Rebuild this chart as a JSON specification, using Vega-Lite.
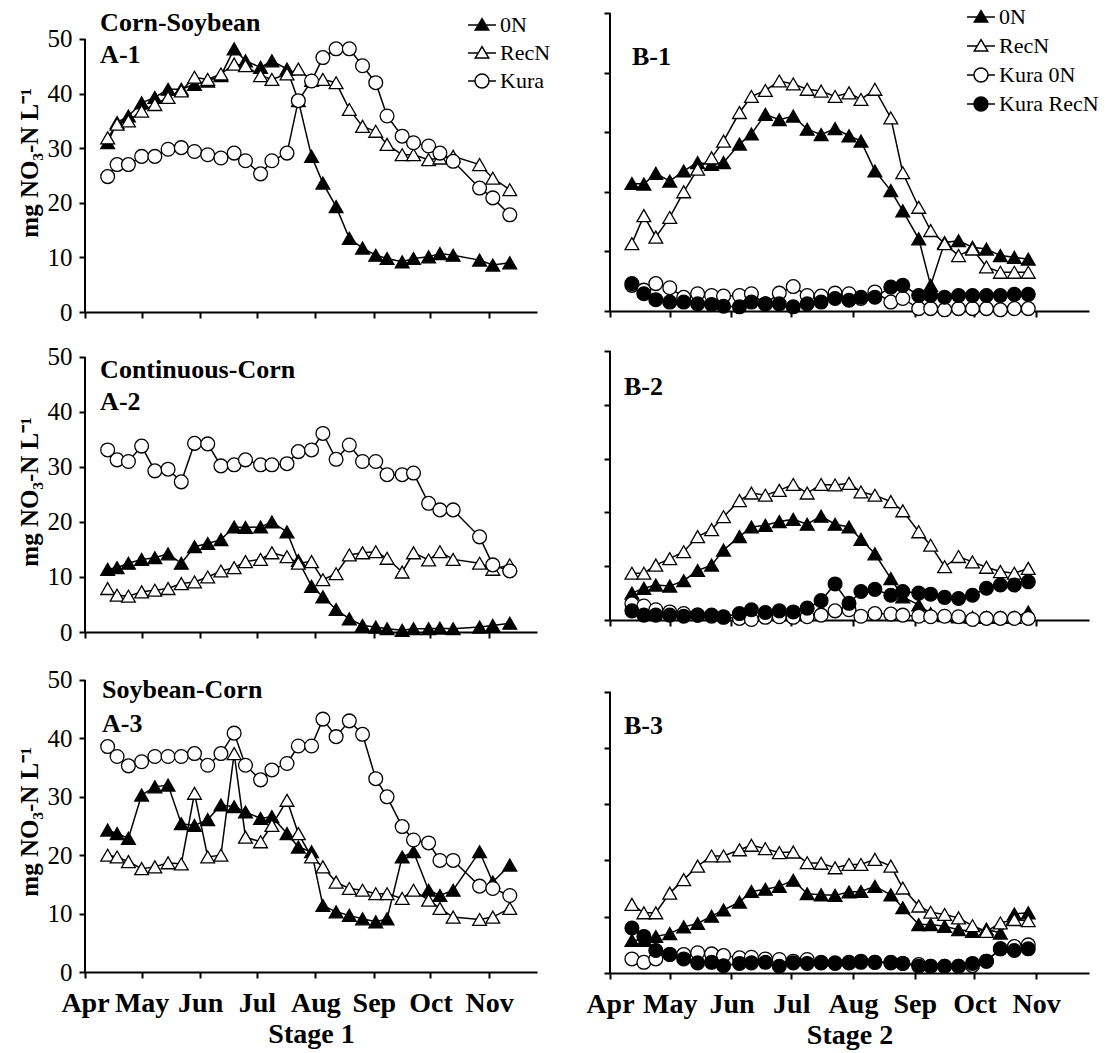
{
"$schema": "https://vega.github.io/schema/vega-lite/v6.json",
"background": "white",
"padding": {"left": 17, "top": 2, "right": 2, "bottom": 2},
"datasets": {
"labels": [
{"panel":"A1","label":"Corn-Soybean","date":"2020-04-09","value":51.5},
{"panel":"A1","label":"A-1","date":"2020-04-09","value":45.6},
{"panel":"A2","label":"Continuous-Corn","date":"2020-04-09","value":46.1},
{"panel":"A2","label":"A-2","date":"2020-04-09","value":40.4},
{"panel":"A3","label":"Soybean-Corn","date":"2020-04-10","value":46.9},
{"panel":"A3","label":"A-3","date":"2020-04-10","value":41.1},
{"panel":"B1","label":"B-1","date":"2020-04-12","value":41.3},
{"panel":"B2","label":"B-2","date":"2020-04-08","value":41.8},
{"panel":"B3","label":"B-3","date":"2020-04-08","value":42.4}
],
"pts": [
{"panel":"A1","series":"0N","date":"2020-04-13","value":31},
{"panel":"A1","series":"0N","date":"2020-04-18","value":34.7},
{"panel":"A1","series":"0N","date":"2020-04-24","value":35.9},
{"panel":"A1","series":"0N","date":"2020-05-01","value":38.3},
{"panel":"A1","series":"0N","date":"2020-05-08","value":39.3},
{"panel":"A1","series":"0N","date":"2020-05-15","value":40.8},
{"panel":"A1","series":"0N","date":"2020-05-22","value":40.8},
{"panel":"A1","series":"0N","date":"2020-05-29","value":41.7},
{"panel":"A1","series":"0N","date":"2020-06-05","value":42.3},
{"panel":"A1","series":"0N","date":"2020-06-12","value":43.3},
{"panel":"A1","series":"0N","date":"2020-06-19","value":48.2},
{"panel":"A1","series":"0N","date":"2020-06-25","value":46},
{"panel":"A1","series":"0N","date":"2020-07-03","value":44.8},
{"panel":"A1","series":"0N","date":"2020-07-09","value":46},
{"panel":"A1","series":"0N","date":"2020-07-17","value":44.5},
{"panel":"A1","series":"0N","date":"2020-07-23","value":38.7},
{"panel":"A1","series":"0N","date":"2020-07-30","value":28.5},
{"panel":"A1","series":"0N","date":"2020-08-05","value":23.6},
{"panel":"A1","series":"0N","date":"2020-08-12","value":19.3},
{"panel":"A1","series":"0N","date":"2020-08-19","value":13.5},
{"panel":"A1","series":"0N","date":"2020-08-26","value":11.7},
{"panel":"A1","series":"0N","date":"2020-09-02","value":10.4},
{"panel":"A1","series":"0N","date":"2020-09-08","value":9.8},
{"panel":"A1","series":"0N","date":"2020-09-16","value":9.2},
{"panel":"A1","series":"0N","date":"2020-09-22","value":9.8},
{"panel":"A1","series":"0N","date":"2020-09-30","value":10.1},
{"panel":"A1","series":"0N","date":"2020-10-06","value":10.7},
{"panel":"A1","series":"0N","date":"2020-10-13","value":10.4},
{"panel":"A1","series":"0N","date":"2020-10-27","value":9.5},
{"panel":"A1","series":"0N","date":"2020-11-03","value":8.6},
{"panel":"A1","series":"0N","date":"2020-11-12","value":9.0},
{"panel":"A1","series":"RecN","date":"2020-04-13","value":31.9},
{"panel":"A1","series":"RecN","date":"2020-04-18","value":34.4},
{"panel":"A1","series":"RecN","date":"2020-04-24","value":35},
{"panel":"A1","series":"RecN","date":"2020-05-01","value":36.8},
{"panel":"A1","series":"RecN","date":"2020-05-08","value":38},
{"panel":"A1","series":"RecN","date":"2020-05-15","value":39.3},
{"panel":"A1","series":"RecN","date":"2020-05-22","value":40.5},
{"panel":"A1","series":"RecN","date":"2020-05-29","value":43},
{"panel":"A1","series":"RecN","date":"2020-06-05","value":42.6},
{"panel":"A1","series":"RecN","date":"2020-06-12","value":43.6},
{"panel":"A1","series":"RecN","date":"2020-06-19","value":45.4},
{"panel":"A1","series":"RecN","date":"2020-06-25","value":45.1},
{"panel":"A1","series":"RecN","date":"2020-07-03","value":43.3},
{"panel":"A1","series":"RecN","date":"2020-07-09","value":42.6},
{"panel":"A1","series":"RecN","date":"2020-07-17","value":43.6},
{"panel":"A1","series":"RecN","date":"2020-07-23","value":44.5},
{"panel":"A1","series":"RecN","date":"2020-07-30","value":42.4},
{"panel":"A1","series":"RecN","date":"2020-08-05","value":42.6},
{"panel":"A1","series":"RecN","date":"2020-08-12","value":42},
{"panel":"A1","series":"RecN","date":"2020-08-19","value":37.1},
{"panel":"A1","series":"RecN","date":"2020-08-26","value":34},
{"panel":"A1","series":"RecN","date":"2020-09-02","value":33.1},
{"panel":"A1","series":"RecN","date":"2020-09-08","value":30.7},
{"panel":"A1","series":"RecN","date":"2020-09-16","value":28.8},
{"panel":"A1","series":"RecN","date":"2020-09-22","value":28.8},
{"panel":"A1","series":"RecN","date":"2020-09-30","value":27.9},
{"panel":"A1","series":"RecN","date":"2020-10-06","value":28.2},
{"panel":"A1","series":"RecN","date":"2020-10-13","value":28.5},
{"panel":"A1","series":"RecN","date":"2020-10-27","value":27},
{"panel":"A1","series":"RecN","date":"2020-11-03","value":24.5},
{"panel":"A1","series":"RecN","date":"2020-11-12","value":22.4},
{"panel":"A1","series":"Kura","date":"2020-04-13","value":24.8},
{"panel":"A1","series":"Kura","date":"2020-04-18","value":27},
{"panel":"A1","series":"Kura","date":"2020-04-24","value":27},
{"panel":"A1","series":"Kura","date":"2020-05-01","value":28.5},
{"panel":"A1","series":"Kura","date":"2020-05-08","value":28.5},
{"panel":"A1","series":"Kura","date":"2020-05-15","value":29.8},
{"panel":"A1","series":"Kura","date":"2020-05-22","value":30.1},
{"panel":"A1","series":"Kura","date":"2020-05-29","value":29.4},
{"panel":"A1","series":"Kura","date":"2020-06-05","value":28.8},
{"panel":"A1","series":"Kura","date":"2020-06-12","value":28.2},
{"panel":"A1","series":"Kura","date":"2020-06-19","value":29.1},
{"panel":"A1","series":"Kura","date":"2020-06-25","value":27.7},
{"panel":"A1","series":"Kura","date":"2020-07-03","value":25.3},
{"panel":"A1","series":"Kura","date":"2020-07-09","value":27.7},
{"panel":"A1","series":"Kura","date":"2020-07-17","value":29.1},
{"panel":"A1","series":"Kura","date":"2020-07-23","value":38.7},
{"panel":"A1","series":"Kura","date":"2020-07-30","value":42.3},
{"panel":"A1","series":"Kura","date":"2020-08-05","value":46.6},
{"panel":"A1","series":"Kura","date":"2020-08-12","value":48.2},
{"panel":"A1","series":"Kura","date":"2020-08-19","value":48.2},
{"panel":"A1","series":"Kura","date":"2020-08-26","value":45.1},
{"panel":"A1","series":"Kura","date":"2020-09-02","value":42},
{"panel":"A1","series":"Kura","date":"2020-09-08","value":35.9},
{"panel":"A1","series":"Kura","date":"2020-09-16","value":32.2},
{"panel":"A1","series":"Kura","date":"2020-09-22","value":31},
{"panel":"A1","series":"Kura","date":"2020-09-30","value":30.4},
{"panel":"A1","series":"Kura","date":"2020-10-06","value":29.1},
{"panel":"A1","series":"Kura","date":"2020-10-13","value":27.6},
{"panel":"A1","series":"Kura","date":"2020-10-27","value":22.7},
{"panel":"A1","series":"Kura","date":"2020-11-03","value":20.9},
{"panel":"A1","series":"Kura","date":"2020-11-12","value":17.8},
{"panel":"A2","series":"0N","date":"2020-04-13","value":11.4},
{"panel":"A2","series":"0N","date":"2020-04-18","value":11.7},
{"panel":"A2","series":"0N","date":"2020-04-24","value":12.5},
{"panel":"A2","series":"0N","date":"2020-05-01","value":13.2},
{"panel":"A2","series":"0N","date":"2020-05-08","value":13.5},
{"panel":"A2","series":"0N","date":"2020-05-15","value":14.2},
{"panel":"A2","series":"0N","date":"2020-05-22","value":12.5},
{"panel":"A2","series":"0N","date":"2020-05-29","value":15.5},
{"panel":"A2","series":"0N","date":"2020-06-05","value":16.1},
{"panel":"A2","series":"0N","date":"2020-06-12","value":16.8},
{"panel":"A2","series":"0N","date":"2020-06-19","value":19.1},
{"panel":"A2","series":"0N","date":"2020-06-25","value":19},
{"panel":"A2","series":"0N","date":"2020-07-03","value":19.1},
{"panel":"A2","series":"0N","date":"2020-07-09","value":20},
{"panel":"A2","series":"0N","date":"2020-07-17","value":18.2},
{"panel":"A2","series":"0N","date":"2020-07-23","value":13},
{"panel":"A2","series":"0N","date":"2020-07-30","value":8.3},
{"panel":"A2","series":"0N","date":"2020-08-05","value":6.4},
{"panel":"A2","series":"0N","date":"2020-08-12","value":4.1},
{"panel":"A2","series":"0N","date":"2020-08-19","value":2.4},
{"panel":"A2","series":"0N","date":"2020-08-26","value":1.2},
{"panel":"A2","series":"0N","date":"2020-09-02","value":0.9},
{"panel":"A2","series":"0N","date":"2020-09-08","value":0.6},
{"panel":"A2","series":"0N","date":"2020-09-16","value":0.3},
{"panel":"A2","series":"0N","date":"2020-09-22","value":0.6},
{"panel":"A2","series":"0N","date":"2020-09-30","value":0.6},
{"panel":"A2","series":"0N","date":"2020-10-06","value":0.7},
{"panel":"A2","series":"0N","date":"2020-10-13","value":0.6},
{"panel":"A2","series":"0N","date":"2020-10-27","value":0.9},
{"panel":"A2","series":"0N","date":"2020-11-03","value":1.2},
{"panel":"A2","series":"0N","date":"2020-11-12","value":1.6},
{"panel":"A2","series":"RecN","date":"2020-04-13","value":7.9},
{"panel":"A2","series":"RecN","date":"2020-04-18","value":6.7},
{"panel":"A2","series":"RecN","date":"2020-04-24","value":6.5},
{"panel":"A2","series":"RecN","date":"2020-05-01","value":7.3},
{"panel":"A2","series":"RecN","date":"2020-05-08","value":7.6},
{"panel":"A2","series":"RecN","date":"2020-05-15","value":7.9},
{"panel":"A2","series":"RecN","date":"2020-05-22","value":8.8},
{"panel":"A2","series":"RecN","date":"2020-05-29","value":9.1},
{"panel":"A2","series":"RecN","date":"2020-06-05","value":10},
{"panel":"A2","series":"RecN","date":"2020-06-12","value":11.1},
{"panel":"A2","series":"RecN","date":"2020-06-19","value":11.7},
{"panel":"A2","series":"RecN","date":"2020-06-25","value":12.8},
{"panel":"A2","series":"RecN","date":"2020-07-03","value":13.2},
{"panel":"A2","series":"RecN","date":"2020-07-09","value":14.4},
{"panel":"A2","series":"RecN","date":"2020-07-17","value":13.7},
{"panel":"A2","series":"RecN","date":"2020-07-23","value":12.5},
{"panel":"A2","series":"RecN","date":"2020-07-30","value":12.8},
{"panel":"A2","series":"RecN","date":"2020-08-05","value":9.5},
{"panel":"A2","series":"RecN","date":"2020-08-12","value":10.6},
{"panel":"A2","series":"RecN","date":"2020-08-19","value":14},
{"panel":"A2","series":"RecN","date":"2020-08-26","value":14.4},
{"panel":"A2","series":"RecN","date":"2020-09-02","value":14.6},
{"panel":"A2","series":"RecN","date":"2020-09-08","value":13.4},
{"panel":"A2","series":"RecN","date":"2020-09-16","value":10.9},
{"panel":"A2","series":"RecN","date":"2020-09-22","value":14.4},
{"panel":"A2","series":"RecN","date":"2020-09-30","value":13.1},
{"panel":"A2","series":"RecN","date":"2020-10-06","value":14.6},
{"panel":"A2","series":"RecN","date":"2020-10-13","value":13.2},
{"panel":"A2","series":"RecN","date":"2020-10-27","value":12.5},
{"panel":"A2","series":"RecN","date":"2020-11-03","value":11.4},
{"panel":"A2","series":"RecN","date":"2020-11-12","value":12.2},
{"panel":"A2","series":"Kura","date":"2020-04-13","value":33.1},
{"panel":"A2","series":"Kura","date":"2020-04-18","value":31.3},
{"panel":"A2","series":"Kura","date":"2020-04-24","value":31},
{"panel":"A2","series":"Kura","date":"2020-05-01","value":33.8},
{"panel":"A2","series":"Kura","date":"2020-05-08","value":29.3},
{"panel":"A2","series":"Kura","date":"2020-05-15","value":29.6},
{"panel":"A2","series":"Kura","date":"2020-05-22","value":27.3},
{"panel":"A2","series":"Kura","date":"2020-05-29","value":34.3},
{"panel":"A2","series":"Kura","date":"2020-06-05","value":34.2},
{"panel":"A2","series":"Kura","date":"2020-06-12","value":30.2},
{"panel":"A2","series":"Kura","date":"2020-06-19","value":30.4},
{"panel":"A2","series":"Kura","date":"2020-06-25","value":31.3},
{"panel":"A2","series":"Kura","date":"2020-07-03","value":30.4},
{"panel":"A2","series":"Kura","date":"2020-07-09","value":30.4},
{"panel":"A2","series":"Kura","date":"2020-07-17","value":30.6},
{"panel":"A2","series":"Kura","date":"2020-07-23","value":32.8},
{"panel":"A2","series":"Kura","date":"2020-07-30","value":33.1},
{"panel":"A2","series":"Kura","date":"2020-08-05","value":36.1},
{"panel":"A2","series":"Kura","date":"2020-08-12","value":31.4},
{"panel":"A2","series":"Kura","date":"2020-08-19","value":34},
{"panel":"A2","series":"Kura","date":"2020-08-26","value":31},
{"panel":"A2","series":"Kura","date":"2020-09-02","value":31},
{"panel":"A2","series":"Kura","date":"2020-09-08","value":28.6},
{"panel":"A2","series":"Kura","date":"2020-09-16","value":28.6},
{"panel":"A2","series":"Kura","date":"2020-09-22","value":28.9},
{"panel":"A2","series":"Kura","date":"2020-09-30","value":23.4},
{"panel":"A2","series":"Kura","date":"2020-10-06","value":22.2},
{"panel":"A2","series":"Kura","date":"2020-10-13","value":22.2},
{"panel":"A2","series":"Kura","date":"2020-10-27","value":17.3},
{"panel":"A2","series":"Kura","date":"2020-11-03","value":12.2},
{"panel":"A2","series":"Kura","date":"2020-11-12","value":11.1},
{"panel":"A3","series":"0N","date":"2020-04-13","value":24.3},
{"panel":"A3","series":"0N","date":"2020-04-18","value":23.7},
{"panel":"A3","series":"0N","date":"2020-04-24","value":22.9},
{"panel":"A3","series":"0N","date":"2020-05-01","value":30.3},
{"panel":"A3","series":"0N","date":"2020-05-08","value":31.7},
{"panel":"A3","series":"0N","date":"2020-05-15","value":32},
{"panel":"A3","series":"0N","date":"2020-05-22","value":25.4},
{"panel":"A3","series":"0N","date":"2020-05-29","value":25.1},
{"panel":"A3","series":"0N","date":"2020-06-05","value":26.1},
{"panel":"A3","series":"0N","date":"2020-06-12","value":28.6},
{"panel":"A3","series":"0N","date":"2020-06-19","value":28.3},
{"panel":"A3","series":"0N","date":"2020-06-25","value":27.4},
{"panel":"A3","series":"0N","date":"2020-07-03","value":26.3},
{"panel":"A3","series":"0N","date":"2020-07-09","value":26.6},
{"panel":"A3","series":"0N","date":"2020-07-17","value":23.7},
{"panel":"A3","series":"0N","date":"2020-07-23","value":21.4},
{"panel":"A3","series":"0N","date":"2020-07-30","value":20.6},
{"panel":"A3","series":"0N","date":"2020-08-05","value":11.4},
{"panel":"A3","series":"0N","date":"2020-08-12","value":10.3},
{"panel":"A3","series":"0N","date":"2020-08-19","value":9.7},
{"panel":"A3","series":"0N","date":"2020-08-26","value":9.1},
{"panel":"A3","series":"0N","date":"2020-09-02","value":8.6},
{"panel":"A3","series":"0N","date":"2020-09-08","value":9.1},
{"panel":"A3","series":"0N","date":"2020-09-16","value":19.7},
{"panel":"A3","series":"0N","date":"2020-09-22","value":20.6},
{"panel":"A3","series":"0N","date":"2020-09-30","value":14},
{"panel":"A3","series":"0N","date":"2020-10-06","value":13.1},
{"panel":"A3","series":"0N","date":"2020-10-13","value":14},
{"panel":"A3","series":"0N","date":"2020-10-27","value":20.6},
{"panel":"A3","series":"0N","date":"2020-11-03","value":15.4},
{"panel":"A3","series":"0N","date":"2020-11-12","value":18.3},
{"panel":"A3","series":"RecN","date":"2020-04-13","value":20},
{"panel":"A3","series":"RecN","date":"2020-04-18","value":19.7},
{"panel":"A3","series":"RecN","date":"2020-04-24","value":18.9},
{"panel":"A3","series":"RecN","date":"2020-05-01","value":17.7},
{"panel":"A3","series":"RecN","date":"2020-05-08","value":18},
{"panel":"A3","series":"RecN","date":"2020-05-15","value":18.7},
{"panel":"A3","series":"RecN","date":"2020-05-22","value":18.5},
{"panel":"A3","series":"RecN","date":"2020-05-29","value":30.6},
{"panel":"A3","series":"RecN","date":"2020-06-05","value":19.7},
{"panel":"A3","series":"RecN","date":"2020-06-12","value":20},
{"panel":"A3","series":"RecN","date":"2020-06-19","value":37.4},
{"panel":"A3","series":"RecN","date":"2020-06-25","value":23.1},
{"panel":"A3","series":"RecN","date":"2020-07-03","value":22.3},
{"panel":"A3","series":"RecN","date":"2020-07-09","value":25.1},
{"panel":"A3","series":"RecN","date":"2020-07-17","value":29.4},
{"panel":"A3","series":"RecN","date":"2020-07-23","value":23.7},
{"panel":"A3","series":"RecN","date":"2020-07-30","value":19.7},
{"panel":"A3","series":"RecN","date":"2020-08-05","value":18},
{"panel":"A3","series":"RecN","date":"2020-08-12","value":15.4},
{"panel":"A3","series":"RecN","date":"2020-08-19","value":14.3},
{"panel":"A3","series":"RecN","date":"2020-08-26","value":14},
{"panel":"A3","series":"RecN","date":"2020-09-02","value":13.4},
{"panel":"A3","series":"RecN","date":"2020-09-08","value":13.4},
{"panel":"A3","series":"RecN","date":"2020-09-16","value":12.6},
{"panel":"A3","series":"RecN","date":"2020-09-22","value":14},
{"panel":"A3","series":"RecN","date":"2020-09-30","value":12.3},
{"panel":"A3","series":"RecN","date":"2020-10-06","value":10.9},
{"panel":"A3","series":"RecN","date":"2020-10-13","value":9.4},
{"panel":"A3","series":"RecN","date":"2020-10-27","value":9},
{"panel":"A3","series":"RecN","date":"2020-11-03","value":9.4},
{"panel":"A3","series":"RecN","date":"2020-11-12","value":10.9},
{"panel":"A3","series":"Kura","date":"2020-04-13","value":38.6},
{"panel":"A3","series":"Kura","date":"2020-04-18","value":36.9},
{"panel":"A3","series":"Kura","date":"2020-04-24","value":35.3},
{"panel":"A3","series":"Kura","date":"2020-05-01","value":36},
{"panel":"A3","series":"Kura","date":"2020-05-08","value":36.9},
{"panel":"A3","series":"Kura","date":"2020-05-15","value":36.9},
{"panel":"A3","series":"Kura","date":"2020-05-22","value":36.9},
{"panel":"A3","series":"Kura","date":"2020-05-29","value":37.4},
{"panel":"A3","series":"Kura","date":"2020-06-05","value":35.4},
{"panel":"A3","series":"Kura","date":"2020-06-12","value":37.4},
{"panel":"A3","series":"Kura","date":"2020-06-19","value":40.9},
{"panel":"A3","series":"Kura","date":"2020-06-25","value":35.4},
{"panel":"A3","series":"Kura","date":"2020-07-03","value":32.9},
{"panel":"A3","series":"Kura","date":"2020-07-09","value":34.6},
{"panel":"A3","series":"Kura","date":"2020-07-17","value":35.7},
{"panel":"A3","series":"Kura","date":"2020-07-23","value":38.7},
{"panel":"A3","series":"Kura","date":"2020-07-30","value":38.7},
{"panel":"A3","series":"Kura","date":"2020-08-05","value":43.3},
{"panel":"A3","series":"Kura","date":"2020-08-12","value":40.3},
{"panel":"A3","series":"Kura","date":"2020-08-19","value":43},
{"panel":"A3","series":"Kura","date":"2020-08-26","value":40.7},
{"panel":"A3","series":"Kura","date":"2020-09-02","value":33.1},
{"panel":"A3","series":"Kura","date":"2020-09-08","value":30},
{"panel":"A3","series":"Kura","date":"2020-09-16","value":24.9},
{"panel":"A3","series":"Kura","date":"2020-09-22","value":22.6},
{"panel":"A3","series":"Kura","date":"2020-09-30","value":22.1},
{"panel":"A3","series":"Kura","date":"2020-10-06","value":19.1},
{"panel":"A3","series":"Kura","date":"2020-10-13","value":19.1},
{"panel":"A3","series":"Kura","date":"2020-10-27","value":14.7},
{"panel":"A3","series":"Kura","date":"2020-11-03","value":14.3},
{"panel":"A3","series":"Kura","date":"2020-11-12","value":13.1},
{"panel":"B1","series":"0N","date":"2020-04-12","value":21.4},
{"panel":"B1","series":"0N","date":"2020-04-18","value":21.3},
{"panel":"B1","series":"0N","date":"2020-04-24","value":23.1},
{"panel":"B1","series":"0N","date":"2020-05-01","value":21.8},
{"panel":"B1","series":"0N","date":"2020-05-08","value":23.5},
{"panel":"B1","series":"0N","date":"2020-05-15","value":24.9},
{"panel":"B1","series":"0N","date":"2020-05-22","value":24.6},
{"panel":"B1","series":"0N","date":"2020-05-28","value":24.9},
{"panel":"B1","series":"0N","date":"2020-06-05","value":28},
{"panel":"B1","series":"0N","date":"2020-06-11","value":29.7},
{"panel":"B1","series":"0N","date":"2020-06-18","value":33},
{"panel":"B1","series":"0N","date":"2020-06-25","value":32.1},
{"panel":"B1","series":"0N","date":"2020-07-02","value":32.7},
{"panel":"B1","series":"0N","date":"2020-07-09","value":30.5},
{"panel":"B1","series":"0N","date":"2020-07-16","value":29.6},
{"panel":"B1","series":"0N","date":"2020-07-23","value":30.6},
{"panel":"B1","series":"0N","date":"2020-07-30","value":29.4},
{"panel":"B1","series":"0N","date":"2020-08-05","value":28.5},
{"panel":"B1","series":"0N","date":"2020-08-12","value":23.5},
{"panel":"B1","series":"0N","date":"2020-08-20","value":20.2},
{"panel":"B1","series":"0N","date":"2020-08-26","value":16.8},
{"panel":"B1","series":"0N","date":"2020-09-03","value":12.1},
{"panel":"B1","series":"0N","date":"2020-09-09","value":4.3},
{"panel":"B1","series":"0N","date":"2020-09-16","value":11.5},
{"panel":"B1","series":"0N","date":"2020-09-23","value":11.8},
{"panel":"B1","series":"0N","date":"2020-09-30","value":10.7},
{"panel":"B1","series":"0N","date":"2020-10-07","value":10.4},
{"panel":"B1","series":"0N","date":"2020-10-14","value":9.3},
{"panel":"B1","series":"0N","date":"2020-10-21","value":9},
{"panel":"B1","series":"0N","date":"2020-10-28","value":8.7},
{"panel":"B1","series":"RecN","date":"2020-04-12","value":11.3},
{"panel":"B1","series":"RecN","date":"2020-04-18","value":16},
{"panel":"B1","series":"RecN","date":"2020-04-24","value":12.4},
{"panel":"B1","series":"RecN","date":"2020-05-01","value":15.7},
{"panel":"B1","series":"RecN","date":"2020-05-08","value":20},
{"panel":"B1","series":"RecN","date":"2020-05-15","value":23.8},
{"panel":"B1","series":"RecN","date":"2020-05-22","value":25.7},
{"panel":"B1","series":"RecN","date":"2020-05-28","value":28.5},
{"panel":"B1","series":"RecN","date":"2020-06-05","value":33.3},
{"panel":"B1","series":"RecN","date":"2020-06-11","value":36},
{"panel":"B1","series":"RecN","date":"2020-06-18","value":37},
{"panel":"B1","series":"RecN","date":"2020-06-25","value":38.6},
{"panel":"B1","series":"RecN","date":"2020-07-02","value":38.1},
{"panel":"B1","series":"RecN","date":"2020-07-09","value":37.2},
{"panel":"B1","series":"RecN","date":"2020-07-16","value":36.9},
{"panel":"B1","series":"RecN","date":"2020-07-23","value":36},
{"panel":"B1","series":"RecN","date":"2020-07-30","value":36.6},
{"panel":"B1","series":"RecN","date":"2020-08-05","value":35.5},
{"panel":"B1","series":"RecN","date":"2020-08-12","value":37.2},
{"panel":"B1","series":"RecN","date":"2020-08-20","value":32.4},
{"panel":"B1","series":"RecN","date":"2020-08-26","value":23.2},
{"panel":"B1","series":"RecN","date":"2020-09-03","value":17.4},
{"panel":"B1","series":"RecN","date":"2020-09-09","value":13.5},
{"panel":"B1","series":"RecN","date":"2020-09-16","value":11.3},
{"panel":"B1","series":"RecN","date":"2020-09-23","value":9.3},
{"panel":"B1","series":"RecN","date":"2020-09-30","value":10.4},
{"panel":"B1","series":"RecN","date":"2020-10-07","value":7.4},
{"panel":"B1","series":"RecN","date":"2020-10-14","value":6.5},
{"panel":"B1","series":"RecN","date":"2020-10-21","value":6.5},
{"panel":"B1","series":"RecN","date":"2020-10-28","value":6.5},
{"panel":"B1","series":"Kura 0N","date":"2020-04-12","value":4.3},
{"panel":"B1","series":"Kura 0N","date":"2020-04-18","value":3.5},
{"panel":"B1","series":"Kura 0N","date":"2020-04-24","value":4.6},
{"panel":"B1","series":"Kura 0N","date":"2020-05-01","value":3.9},
{"panel":"B1","series":"Kura 0N","date":"2020-05-08","value":2.3},
{"panel":"B1","series":"Kura 0N","date":"2020-05-15","value":2.9},
{"panel":"B1","series":"Kura 0N","date":"2020-05-22","value":2.6},
{"panel":"B1","series":"Kura 0N","date":"2020-05-28","value":2.5},
{"panel":"B1","series":"Kura 0N","date":"2020-06-05","value":2.6},
{"panel":"B1","series":"Kura 0N","date":"2020-06-11","value":2.9},
{"panel":"B1","series":"Kura 0N","date":"2020-06-18","value":1.2},
{"panel":"B1","series":"Kura 0N","date":"2020-06-25","value":3},
{"panel":"B1","series":"Kura 0N","date":"2020-07-02","value":4.1},
{"panel":"B1","series":"Kura 0N","date":"2020-07-09","value":2.6},
{"panel":"B1","series":"Kura 0N","date":"2020-07-16","value":2.5},
{"panel":"B1","series":"Kura 0N","date":"2020-07-23","value":3},
{"panel":"B1","series":"Kura 0N","date":"2020-07-30","value":2.9},
{"panel":"B1","series":"Kura 0N","date":"2020-08-05","value":2.1},
{"panel":"B1","series":"Kura 0N","date":"2020-08-12","value":3.2},
{"panel":"B1","series":"Kura 0N","date":"2020-08-20","value":1.5},
{"panel":"B1","series":"Kura 0N","date":"2020-08-26","value":2.1},
{"panel":"B1","series":"Kura 0N","date":"2020-09-03","value":0.4},
{"panel":"B1","series":"Kura 0N","date":"2020-09-09","value":0.4},
{"panel":"B1","series":"Kura 0N","date":"2020-09-16","value":0.2},
{"panel":"B1","series":"Kura 0N","date":"2020-09-23","value":0.4},
{"panel":"B1","series":"Kura 0N","date":"2020-09-30","value":0.4},
{"panel":"B1","series":"Kura 0N","date":"2020-10-07","value":0.4},
{"panel":"B1","series":"Kura 0N","date":"2020-10-14","value":0.2},
{"panel":"B1","series":"Kura 0N","date":"2020-10-21","value":0.4},
{"panel":"B1","series":"Kura 0N","date":"2020-10-28","value":0.4},
{"panel":"B1","series":"Kura RecN","date":"2020-04-12","value":4.6},
{"panel":"B1","series":"Kura RecN","date":"2020-04-18","value":2.9},
{"panel":"B1","series":"Kura RecN","date":"2020-04-24","value":1.9},
{"panel":"B1","series":"Kura RecN","date":"2020-05-01","value":1.5},
{"panel":"B1","series":"Kura RecN","date":"2020-05-08","value":1.5},
{"panel":"B1","series":"Kura RecN","date":"2020-05-15","value":1.2},
{"panel":"B1","series":"Kura RecN","date":"2020-05-22","value":1.1},
{"panel":"B1","series":"Kura RecN","date":"2020-05-28","value":0.8},
{"panel":"B1","series":"Kura RecN","date":"2020-06-05","value":0.7},
{"panel":"B1","series":"Kura RecN","date":"2020-06-11","value":1.5},
{"panel":"B1","series":"Kura RecN","date":"2020-06-18","value":1.2},
{"panel":"B1","series":"Kura RecN","date":"2020-06-25","value":1.2},
{"panel":"B1","series":"Kura RecN","date":"2020-07-02","value":0.7},
{"panel":"B1","series":"Kura RecN","date":"2020-07-09","value":1.2},
{"panel":"B1","series":"Kura RecN","date":"2020-07-16","value":1.5},
{"panel":"B1","series":"Kura RecN","date":"2020-07-23","value":2.1},
{"panel":"B1","series":"Kura RecN","date":"2020-07-30","value":1.8},
{"panel":"B1","series":"Kura RecN","date":"2020-08-05","value":2.3},
{"panel":"B1","series":"Kura RecN","date":"2020-08-12","value":2.3},
{"panel":"B1","series":"Kura RecN","date":"2020-08-20","value":4},
{"panel":"B1","series":"Kura RecN","date":"2020-08-26","value":4.3},
{"panel":"B1","series":"Kura RecN","date":"2020-09-03","value":2.6},
{"panel":"B1","series":"Kura RecN","date":"2020-09-09","value":2.6},
{"panel":"B1","series":"Kura RecN","date":"2020-09-16","value":2.3},
{"panel":"B1","series":"Kura RecN","date":"2020-09-23","value":2.6},
{"panel":"B1","series":"Kura RecN","date":"2020-09-30","value":2.6},
{"panel":"B1","series":"Kura RecN","date":"2020-10-07","value":2.6},
{"panel":"B1","series":"Kura RecN","date":"2020-10-14","value":2.6},
{"panel":"B1","series":"Kura RecN","date":"2020-10-21","value":2.8},
{"panel":"B1","series":"Kura RecN","date":"2020-10-28","value":2.8},
{"panel":"B2","series":"0N","date":"2020-04-12","value":5},
{"panel":"B2","series":"0N","date":"2020-04-18","value":5.9},
{"panel":"B2","series":"0N","date":"2020-04-24","value":6.5},
{"panel":"B2","series":"0N","date":"2020-05-01","value":6.3},
{"panel":"B2","series":"0N","date":"2020-05-08","value":7.3},
{"panel":"B2","series":"0N","date":"2020-05-15","value":9.2},
{"panel":"B2","series":"0N","date":"2020-05-22","value":10.2},
{"panel":"B2","series":"0N","date":"2020-05-28","value":13},
{"panel":"B2","series":"0N","date":"2020-06-05","value":15.5},
{"panel":"B2","series":"0N","date":"2020-06-11","value":17.3},
{"panel":"B2","series":"0N","date":"2020-06-18","value":17.6},
{"panel":"B2","series":"0N","date":"2020-06-25","value":18.3},
{"panel":"B2","series":"0N","date":"2020-07-02","value":18.7},
{"panel":"B2","series":"0N","date":"2020-07-09","value":17.8},
{"panel":"B2","series":"0N","date":"2020-07-16","value":19.3},
{"panel":"B2","series":"0N","date":"2020-07-23","value":17.8},
{"panel":"B2","series":"0N","date":"2020-07-30","value":17.3},
{"panel":"B2","series":"0N","date":"2020-08-05","value":15},
{"panel":"B2","series":"0N","date":"2020-08-12","value":12.3},
{"panel":"B2","series":"0N","date":"2020-08-20","value":7.7},
{"panel":"B2","series":"0N","date":"2020-08-26","value":4.3},
{"panel":"B2","series":"0N","date":"2020-09-03","value":2.8},
{"panel":"B2","series":"0N","date":"2020-09-09","value":1.2},
{"panel":"B2","series":"0N","date":"2020-09-16","value":0.8},
{"panel":"B2","series":"0N","date":"2020-09-23","value":0.6},
{"panel":"B2","series":"0N","date":"2020-09-30","value":0.5},
{"panel":"B2","series":"0N","date":"2020-10-07","value":0.5},
{"panel":"B2","series":"0N","date":"2020-10-14","value":0.5},
{"panel":"B2","series":"0N","date":"2020-10-21","value":0.5},
{"panel":"B2","series":"0N","date":"2020-10-28","value":1.5},
{"panel":"B2","series":"RecN","date":"2020-04-12","value":8.7},
{"panel":"B2","series":"RecN","date":"2020-04-18","value":8.7},
{"panel":"B2","series":"RecN","date":"2020-04-24","value":10.2},
{"panel":"B2","series":"RecN","date":"2020-05-01","value":11.4},
{"panel":"B2","series":"RecN","date":"2020-05-08","value":12.7},
{"panel":"B2","series":"RecN","date":"2020-05-15","value":15.5},
{"panel":"B2","series":"RecN","date":"2020-05-22","value":16.8},
{"panel":"B2","series":"RecN","date":"2020-05-28","value":19.2},
{"panel":"B2","series":"RecN","date":"2020-06-05","value":22.2},
{"panel":"B2","series":"RecN","date":"2020-06-11","value":23.6},
{"panel":"B2","series":"RecN","date":"2020-06-18","value":23.2},
{"panel":"B2","series":"RecN","date":"2020-06-25","value":24.1},
{"panel":"B2","series":"RecN","date":"2020-07-02","value":25.2},
{"panel":"B2","series":"RecN","date":"2020-07-09","value":23.6},
{"panel":"B2","series":"RecN","date":"2020-07-16","value":25.2},
{"panel":"B2","series":"RecN","date":"2020-07-23","value":25.1},
{"panel":"B2","series":"RecN","date":"2020-07-30","value":25.4},
{"panel":"B2","series":"RecN","date":"2020-08-05","value":23.8},
{"panel":"B2","series":"RecN","date":"2020-08-12","value":23.2},
{"panel":"B2","series":"RecN","date":"2020-08-20","value":22},
{"panel":"B2","series":"RecN","date":"2020-08-26","value":20.3},
{"panel":"B2","series":"RecN","date":"2020-09-03","value":16.4},
{"panel":"B2","series":"RecN","date":"2020-09-09","value":13.9},
{"panel":"B2","series":"RecN","date":"2020-09-16","value":9.9},
{"panel":"B2","series":"RecN","date":"2020-09-23","value":11.8},
{"panel":"B2","series":"RecN","date":"2020-09-30","value":10.8},
{"panel":"B2","series":"RecN","date":"2020-10-07","value":9.8},
{"panel":"B2","series":"RecN","date":"2020-10-14","value":9},
{"panel":"B2","series":"RecN","date":"2020-10-21","value":8.7},
{"panel":"B2","series":"RecN","date":"2020-10-28","value":9.6},
{"panel":"B2","series":"Kura 0N","date":"2020-04-12","value":3},
{"panel":"B2","series":"Kura 0N","date":"2020-04-18","value":2.6},
{"panel":"B2","series":"Kura 0N","date":"2020-04-24","value":1.9},
{"panel":"B2","series":"Kura 0N","date":"2020-05-01","value":1.5},
{"panel":"B2","series":"Kura 0N","date":"2020-05-08","value":1.2},
{"panel":"B2","series":"Kura 0N","date":"2020-05-15","value":0.9},
{"panel":"B2","series":"Kura 0N","date":"2020-05-22","value":0.7},
{"panel":"B2","series":"Kura 0N","date":"2020-05-28","value":0.5},
{"panel":"B2","series":"Kura 0N","date":"2020-06-05","value":0.3},
{"panel":"B2","series":"Kura 0N","date":"2020-06-11","value":0.1},
{"panel":"B2","series":"Kura 0N","date":"2020-06-18","value":0.5},
{"panel":"B2","series":"Kura 0N","date":"2020-06-25","value":0.6},
{"panel":"B2","series":"Kura 0N","date":"2020-07-02","value":0.5},
{"panel":"B2","series":"Kura 0N","date":"2020-07-09","value":0.6},
{"panel":"B2","series":"Kura 0N","date":"2020-07-16","value":0.9},
{"panel":"B2","series":"Kura 0N","date":"2020-07-23","value":1.7},
{"panel":"B2","series":"Kura 0N","date":"2020-07-30","value":1.9},
{"panel":"B2","series":"Kura 0N","date":"2020-08-05","value":0.7},
{"panel":"B2","series":"Kura 0N","date":"2020-08-12","value":1.2},
{"panel":"B2","series":"Kura 0N","date":"2020-08-20","value":1.1},
{"panel":"B2","series":"Kura 0N","date":"2020-08-26","value":0.9},
{"panel":"B2","series":"Kura 0N","date":"2020-09-03","value":0.7},
{"panel":"B2","series":"Kura 0N","date":"2020-09-09","value":0.6},
{"panel":"B2","series":"Kura 0N","date":"2020-09-16","value":0.7},
{"panel":"B2","series":"Kura 0N","date":"2020-09-23","value":0.6},
{"panel":"B2","series":"Kura 0N","date":"2020-09-30","value":0.1},
{"panel":"B2","series":"Kura 0N","date":"2020-10-07","value":0.3},
{"panel":"B2","series":"Kura 0N","date":"2020-10-14","value":0.3},
{"panel":"B2","series":"Kura 0N","date":"2020-10-21","value":0.3},
{"panel":"B2","series":"Kura 0N","date":"2020-10-28","value":0.3},
{"panel":"B2","series":"Kura RecN","date":"2020-04-12","value":1.7},
{"panel":"B2","series":"Kura RecN","date":"2020-04-18","value":0.9},
{"panel":"B2","series":"Kura RecN","date":"2020-04-24","value":0.9},
{"panel":"B2","series":"Kura RecN","date":"2020-05-01","value":0.9},
{"panel":"B2","series":"Kura RecN","date":"2020-05-08","value":0.7},
{"panel":"B2","series":"Kura RecN","date":"2020-05-15","value":0.9},
{"panel":"B2","series":"Kura RecN","date":"2020-05-22","value":0.9},
{"panel":"B2","series":"Kura RecN","date":"2020-05-28","value":0.6},
{"panel":"B2","series":"Kura RecN","date":"2020-06-05","value":1.2},
{"panel":"B2","series":"Kura RecN","date":"2020-06-11","value":1.9},
{"panel":"B2","series":"Kura RecN","date":"2020-06-18","value":1.4},
{"panel":"B2","series":"Kura RecN","date":"2020-06-25","value":1.7},
{"panel":"B2","series":"Kura RecN","date":"2020-07-02","value":1.5},
{"panel":"B2","series":"Kura RecN","date":"2020-07-09","value":2.2},
{"panel":"B2","series":"Kura RecN","date":"2020-07-16","value":3.6},
{"panel":"B2","series":"Kura RecN","date":"2020-07-23","value":6.7},
{"panel":"B2","series":"Kura RecN","date":"2020-07-30","value":3.1},
{"panel":"B2","series":"Kura RecN","date":"2020-08-05","value":5.3},
{"panel":"B2","series":"Kura RecN","date":"2020-08-12","value":5.7},
{"panel":"B2","series":"Kura RecN","date":"2020-08-20","value":4.6},
{"panel":"B2","series":"Kura RecN","date":"2020-08-26","value":5.3},
{"panel":"B2","series":"Kura RecN","date":"2020-09-03","value":5},
{"panel":"B2","series":"Kura RecN","date":"2020-09-09","value":4.8},
{"panel":"B2","series":"Kura RecN","date":"2020-09-16","value":4.2},
{"panel":"B2","series":"Kura RecN","date":"2020-09-23","value":4},
{"panel":"B2","series":"Kura RecN","date":"2020-09-30","value":4.6},
{"panel":"B2","series":"Kura RecN","date":"2020-10-07","value":5.9},
{"panel":"B2","series":"Kura RecN","date":"2020-10-14","value":6.5},
{"panel":"B2","series":"Kura RecN","date":"2020-10-21","value":6.5},
{"panel":"B2","series":"Kura RecN","date":"2020-10-28","value":7.1},
{"panel":"B3","series":"0N","date":"2020-04-12","value":5.8},
{"panel":"B3","series":"0N","date":"2020-04-18","value":5.8},
{"panel":"B3","series":"0N","date":"2020-04-24","value":6.5},
{"panel":"B3","series":"0N","date":"2020-05-01","value":7},
{"panel":"B3","series":"0N","date":"2020-05-08","value":8.2},
{"panel":"B3","series":"0N","date":"2020-05-15","value":8.8},
{"panel":"B3","series":"0N","date":"2020-05-22","value":10.1},
{"panel":"B3","series":"0N","date":"2020-05-28","value":11.2},
{"panel":"B3","series":"0N","date":"2020-06-05","value":12.6},
{"panel":"B3","series":"0N","date":"2020-06-11","value":14.5},
{"panel":"B3","series":"0N","date":"2020-06-18","value":14.9},
{"panel":"B3","series":"0N","date":"2020-06-25","value":15.4},
{"panel":"B3","series":"0N","date":"2020-07-02","value":16.5},
{"panel":"B3","series":"0N","date":"2020-07-09","value":14.1},
{"panel":"B3","series":"0N","date":"2020-07-16","value":13.9},
{"panel":"B3","series":"0N","date":"2020-07-23","value":13.8},
{"panel":"B3","series":"0N","date":"2020-07-30","value":14.4},
{"panel":"B3","series":"0N","date":"2020-08-05","value":14.5},
{"panel":"B3","series":"0N","date":"2020-08-12","value":15.4},
{"panel":"B3","series":"0N","date":"2020-08-20","value":13.9},
{"panel":"B3","series":"0N","date":"2020-08-26","value":11.6},
{"panel":"B3","series":"0N","date":"2020-09-03","value":8.6},
{"panel":"B3","series":"0N","date":"2020-09-09","value":8.6},
{"panel":"B3","series":"0N","date":"2020-09-16","value":8.3},
{"panel":"B3","series":"0N","date":"2020-09-23","value":7.7},
{"panel":"B3","series":"0N","date":"2020-09-30","value":7.4},
{"panel":"B3","series":"0N","date":"2020-10-07","value":7.8},
{"panel":"B3","series":"0N","date":"2020-10-14","value":7.1},
{"panel":"B3","series":"0N","date":"2020-10-21","value":10.5},
{"panel":"B3","series":"0N","date":"2020-10-28","value":10.7},
{"panel":"B3","series":"RecN","date":"2020-04-12","value":12.2},
{"panel":"B3","series":"RecN","date":"2020-04-18","value":10.7},
{"panel":"B3","series":"RecN","date":"2020-04-24","value":10.7},
{"panel":"B3","series":"RecN","date":"2020-05-01","value":14.2},
{"panel":"B3","series":"RecN","date":"2020-05-08","value":16.6},
{"panel":"B3","series":"RecN","date":"2020-05-15","value":19},
{"panel":"B3","series":"RecN","date":"2020-05-22","value":20.8},
{"panel":"B3","series":"RecN","date":"2020-05-28","value":20.8},
{"panel":"B3","series":"RecN","date":"2020-06-05","value":21.9},
{"panel":"B3","series":"RecN","date":"2020-06-11","value":22.7},
{"panel":"B3","series":"RecN","date":"2020-06-18","value":22.1},
{"panel":"B3","series":"RecN","date":"2020-06-25","value":21.4},
{"panel":"B3","series":"RecN","date":"2020-07-02","value":21.5},
{"panel":"B3","series":"RecN","date":"2020-07-09","value":19.6},
{"panel":"B3","series":"RecN","date":"2020-07-16","value":19.5},
{"panel":"B3","series":"RecN","date":"2020-07-23","value":18.7},
{"panel":"B3","series":"RecN","date":"2020-07-30","value":19.3},
{"panel":"B3","series":"RecN","date":"2020-08-05","value":19.3},
{"panel":"B3","series":"RecN","date":"2020-08-12","value":20.2},
{"panel":"B3","series":"RecN","date":"2020-08-20","value":19},
{"panel":"B3","series":"RecN","date":"2020-08-26","value":15.1},
{"panel":"B3","series":"RecN","date":"2020-09-03","value":11.9},
{"panel":"B3","series":"RecN","date":"2020-09-09","value":10.8},
{"panel":"B3","series":"RecN","date":"2020-09-16","value":10.4},
{"panel":"B3","series":"RecN","date":"2020-09-23","value":9.8},
{"panel":"B3","series":"RecN","date":"2020-09-30","value":8.4},
{"panel":"B3","series":"RecN","date":"2020-10-07","value":7.4},
{"panel":"B3","series":"RecN","date":"2020-10-14","value":8.9},
{"panel":"B3","series":"RecN","date":"2020-10-21","value":9.5},
{"panel":"B3","series":"RecN","date":"2020-10-28","value":9.3},
{"panel":"B3","series":"Kura 0N","date":"2020-04-12","value":2.5},
{"panel":"B3","series":"Kura 0N","date":"2020-04-18","value":1.9},
{"panel":"B3","series":"Kura 0N","date":"2020-04-24","value":2.5},
{"panel":"B3","series":"Kura 0N","date":"2020-05-01","value":3.3},
{"panel":"B3","series":"Kura 0N","date":"2020-05-08","value":3.3},
{"panel":"B3","series":"Kura 0N","date":"2020-05-15","value":3.6},
{"panel":"B3","series":"Kura 0N","date":"2020-05-22","value":3.4},
{"panel":"B3","series":"Kura 0N","date":"2020-05-28","value":3.1},
{"panel":"B3","series":"Kura 0N","date":"2020-06-05","value":2.7},
{"panel":"B3","series":"Kura 0N","date":"2020-06-11","value":2.8},
{"panel":"B3","series":"Kura 0N","date":"2020-06-18","value":2.5},
{"panel":"B3","series":"Kura 0N","date":"2020-06-25","value":2.4},
{"panel":"B3","series":"Kura 0N","date":"2020-07-02","value":2.1},
{"panel":"B3","series":"Kura 0N","date":"2020-07-09","value":2.4},
{"panel":"B3","series":"Kura 0N","date":"2020-07-16","value":1.9},
{"panel":"B3","series":"Kura 0N","date":"2020-07-23","value":1.8},
{"panel":"B3","series":"Kura 0N","date":"2020-07-30","value":1.9},
{"panel":"B3","series":"Kura 0N","date":"2020-08-05","value":2.1},
{"panel":"B3","series":"Kura 0N","date":"2020-08-12","value":1.9},
{"panel":"B3","series":"Kura 0N","date":"2020-08-20","value":1.9},
{"panel":"B3","series":"Kura 0N","date":"2020-08-26","value":1.7},
{"panel":"B3","series":"Kura 0N","date":"2020-09-03","value":1.5},
{"panel":"B3","series":"Kura 0N","date":"2020-09-09","value":1.2},
{"panel":"B3","series":"Kura 0N","date":"2020-09-16","value":1.2},
{"panel":"B3","series":"Kura 0N","date":"2020-09-23","value":1.2},
{"panel":"B3","series":"Kura 0N","date":"2020-09-30","value":1.3},
{"panel":"B3","series":"Kura 0N","date":"2020-10-07","value":2.1},
{"panel":"B3","series":"Kura 0N","date":"2020-10-14","value":4.3},
{"panel":"B3","series":"Kura 0N","date":"2020-10-21","value":4.7},
{"panel":"B3","series":"Kura 0N","date":"2020-10-28","value":5},
{"panel":"B3","series":"Kura RecN","date":"2020-04-12","value":8},
{"panel":"B3","series":"Kura RecN","date":"2020-04-18","value":6.5},
{"panel":"B3","series":"Kura RecN","date":"2020-04-24","value":4},
{"panel":"B3","series":"Kura RecN","date":"2020-05-01","value":3.3},
{"panel":"B3","series":"Kura RecN","date":"2020-05-08","value":2.5},
{"panel":"B3","series":"Kura RecN","date":"2020-05-15","value":1.8},
{"panel":"B3","series":"Kura RecN","date":"2020-05-22","value":1.9},
{"panel":"B3","series":"Kura RecN","date":"2020-05-28","value":1.3},
{"panel":"B3","series":"Kura RecN","date":"2020-06-05","value":1.7},
{"panel":"B3","series":"Kura RecN","date":"2020-06-11","value":1.8},
{"panel":"B3","series":"Kura RecN","date":"2020-06-18","value":1.9},
{"panel":"B3","series":"Kura RecN","date":"2020-06-25","value":1.2},
{"panel":"B3","series":"Kura RecN","date":"2020-07-02","value":1.8},
{"panel":"B3","series":"Kura RecN","date":"2020-07-09","value":1.7},
{"panel":"B3","series":"Kura RecN","date":"2020-07-16","value":1.8},
{"panel":"B3","series":"Kura RecN","date":"2020-07-23","value":1.7},
{"panel":"B3","series":"Kura RecN","date":"2020-07-30","value":1.8},
{"panel":"B3","series":"Kura RecN","date":"2020-08-05","value":1.9},
{"panel":"B3","series":"Kura RecN","date":"2020-08-12","value":1.9},
{"panel":"B3","series":"Kura RecN","date":"2020-08-20","value":1.8},
{"panel":"B3","series":"Kura RecN","date":"2020-08-26","value":1.7},
{"panel":"B3","series":"Kura RecN","date":"2020-09-03","value":1.2},
{"panel":"B3","series":"Kura RecN","date":"2020-09-09","value":1.2},
{"panel":"B3","series":"Kura RecN","date":"2020-09-16","value":1.2},
{"panel":"B3","series":"Kura RecN","date":"2020-09-23","value":1.2},
{"panel":"B3","series":"Kura RecN","date":"2020-09-30","value":1.7},
{"panel":"B3","series":"Kura RecN","date":"2020-10-07","value":2.1},
{"panel":"B3","series":"Kura RecN","date":"2020-10-14","value":4.3},
{"panel":"B3","series":"Kura RecN","date":"2020-10-21","value":4},
{"panel":"B3","series":"Kura RecN","date":"2020-10-28","value":4.3}
]
},
"columns": 2,
"spacing": {"row": 39, "column": 73},
"bounds": "flush",
"align": "each",
"resolve": {"scale": {"x": "independent", "y": "independent", "shape": "independent", "fill": "independent"}, "legend": {"shape": "independent", "fill": "independent"}},
"concat": [
{
"width": 452, "height": 299,
"layer": [
{"data": {"values": [{}]}, "mark": {"type": "rule", "color": "black", "strokeWidth": 2},
 "encoding": {
  "x": {"datum": {"year": 2020, "month": 4, "date": 1, "utc": true}, "type": "temporal",
        "scale": {"type": "utc", "domain": [{"year": 2020, "month": 4, "date": 1, "utc": true}, {"year": 2020, "month": 11, "date": 26, "hours": 10, "utc": true}]},
        "axis": {"values": [{"year":2020,"month":4,"date":1,"utc":true},{"year":2020,"month":5,"date":1,"utc":true},{"year":2020,"month":6,"date":1,"utc":true},{"year":2020,"month":7,"date":1,"utc":true},{"year":2020,"month":8,"date":1,"utc":true},{"year":2020,"month":9,"date":1,"utc":true},{"year":2020,"month":10,"date":1,"utc":true},{"year":2020,"month":11,"date":1,"utc":true}], "labels": false, "title": null}},
  "y": {"datum": 0, "type": "quantitative", "scale": {"domain": [0, 54.76], "nice": false, "zero": false},
        "axis": {"values": [0, 10, 20, 30, 40, 50], "title": "mg NO₃-N L⁻¹"}},
  "y2": {"datum": 50}}},
{"data": {"name": "pts"}, "transform": [{"filter": "datum.panel === 'A1'"}],
 "mark": {"type": "line", "color": "black", "strokeWidth": 1.5},
 "encoding": {"x": {"field": "date", "type": "temporal"}, "y": {"field": "value", "type": "quantitative"}, "detail": {"field": "series"}}},
{"data": {"name": "pts"}, "transform": [{"filter": "datum.panel === 'A1' && indexof(datum.series, 'Kura') < 0"}],
 "mark": {"type": "point", "shape": "triangle-up", "filled": true, "size": 190, "stroke": "black", "strokeWidth": 1.3, "opacity": 1},
 "encoding": {"x": {"field": "date", "type": "temporal"}, "y": {"field": "value", "type": "quantitative"},
  "fill": {"field": "series", "type": "nominal", "scale": {"domain": ["0N", "RecN", "Kura"], "range": ["black", "white", "white"]}}}},
{"data": {"name": "pts"}, "transform": [{"filter": "datum.panel === 'A1' && indexof(datum.series, 'Kura') >= 0"}],
 "mark": {"type": "point", "shape": "circle", "filled": true, "size": 190, "stroke": "black", "strokeWidth": 1.3, "opacity": 1},
 "encoding": {"x": {"field": "date", "type": "temporal"}, "y": {"field": "value", "type": "quantitative"},
  "fill": {"field": "series", "type": "nominal", "scale": {"domain": ["0N", "RecN", "Kura"], "range": ["black", "white", "white"]}}}},
{"data": {"name": "pts"}, "transform": [{"filter": "false"}],
 "mark": {"type": "point", "filled": true, "stroke": "black", "strokeWidth": 1.5, "opacity": 1},
 "encoding": {"x": {"field": "date", "type": "temporal"}, "y": {"field": "value", "type": "quantitative"},
  "shape": {"field": "series", "type": "nominal", "scale": {"domain": ["0N", "RecN", "Kura"], "range": ["M-1,0H-0.27M0.27,0H1M0,-0.45L0.48,0.35L-0.48,0.35Z", "M-1,0H-0.27M0.27,0H1M0,-0.45L0.48,0.35L-0.48,0.35Z", "M-1,0H-0.5M0.5,0H1M0.5,0A0.5,0.5,0,1,1,-0.5,0A0.5,0.5,0,1,1,0.5,0Z"]},
    "legend": {"orient": "none", "legendX": 382, "legendY": -3, "title": null, "direction": "vertical", "padding": 0, "rowPadding": 2, "symbolSize": 780, "symbolStrokeColor": "black", "symbolStrokeWidth": 1.5, "symbolOpacity": 1, "labelFont": "Liberation Serif", "labelFontSize": 22, "labelColor": "black", "labelOffset": 3}},
  "fill": {"field": "series", "type": "nominal", "scale": {"domain": ["0N", "RecN", "Kura"], "range": ["black", "white", "white"]},
    "legend": {"orient": "none", "legendX": 382, "legendY": -3, "title": null, "direction": "vertical", "padding": 0, "rowPadding": 2, "symbolSize": 780, "symbolStrokeColor": "black", "symbolStrokeWidth": 1.5, "symbolOpacity": 1, "labelFont": "Liberation Serif", "labelFontSize": 22, "labelColor": "black", "labelOffset": 3}}}},
{"data": {"name": "labels"}, "transform": [{"filter": "datum.panel === 'A1'"}],
 "mark": {"type": "text", "align": "left", "baseline": "alphabetic", "font": "Liberation Serif", "fontSize": 26, "fontWeight": "bold", "color": "black"},
 "encoding": {"x": {"field": "date", "type": "temporal"}, "y": {"field": "value", "type": "quantitative"}, "text": {"field": "label"}}}
]
},
{
"width": 479, "height": 298,
"layer": [
{"data": {"values": [{}]}, "mark": {"type": "rule", "color": "black", "strokeWidth": 2},
 "encoding": {
  "x": {"datum": {"year": 2020, "month": 4, "date": 1, "utc": true}, "type": "temporal",
        "scale": {"type": "utc", "domain": [{"year": 2020, "month": 4, "date": 1, "utc": true}, {"year": 2020, "month": 11, "date": 27, "hours": 12, "utc": true}]},
        "axis": {"values": [{"year":2020,"month":4,"date":1,"utc":true},{"year":2020,"month":5,"date":1,"utc":true},{"year":2020,"month":6,"date":1,"utc":true},{"year":2020,"month":7,"date":1,"utc":true},{"year":2020,"month":8,"date":1,"utc":true},{"year":2020,"month":9,"date":1,"utc":true},{"year":2020,"month":10,"date":1,"utc":true},{"year":2020,"month":11,"date":1,"utc":true}], "labels": false, "title": null}},
  "y": {"datum": 0, "type": "quantitative", "scale": {"domain": [0, 50], "nice": false, "zero": false},
        "axis": {"values": [0, 10, 20, 30, 40, 50], "labels": false, "title": null}},
  "y2": {"datum": 50}}},
{"data": {"name": "pts"}, "transform": [{"filter": "datum.panel === 'B1'"}],
 "mark": {"type": "line", "color": "black", "strokeWidth": 1.5},
 "encoding": {"x": {"field": "date", "type": "temporal"}, "y": {"field": "value", "type": "quantitative"}, "detail": {"field": "series"}}},
{"data": {"name": "pts"}, "transform": [{"filter": "datum.panel === 'B1' && indexof(datum.series, 'Kura') < 0"}],
 "mark": {"type": "point", "shape": "triangle-up", "filled": true, "size": 190, "stroke": "black", "strokeWidth": 1.3, "opacity": 1},
 "encoding": {"x": {"field": "date", "type": "temporal"}, "y": {"field": "value", "type": "quantitative"},
  "fill": {"field": "series", "type": "nominal", "scale": {"domain": ["0N", "RecN", "Kura 0N", "Kura RecN"], "range": ["black", "white", "white", "black"]}}}},
{"data": {"name": "pts"}, "transform": [{"filter": "datum.panel === 'B1' && indexof(datum.series, 'Kura') >= 0"}],
 "mark": {"type": "point", "shape": "circle", "filled": true, "size": 190, "stroke": "black", "strokeWidth": 1.3, "opacity": 1},
 "encoding": {"x": {"field": "date", "type": "temporal"}, "y": {"field": "value", "type": "quantitative"},
  "fill": {"field": "series", "type": "nominal", "scale": {"domain": ["0N", "RecN", "Kura 0N", "Kura RecN"], "range": ["black", "white", "white", "black"]}}}},
{"data": {"name": "pts"}, "transform": [{"filter": "false"}],
 "mark": {"type": "point", "filled": true, "stroke": "black", "strokeWidth": 1.5, "opacity": 1},
 "encoding": {"x": {"field": "date", "type": "temporal"}, "y": {"field": "value", "type": "quantitative"},
  "shape": {"field": "series", "type": "nominal", "scale": {"domain": ["0N", "RecN", "Kura 0N", "Kura RecN"], "range": ["M-1,0H-0.27M0.27,0H1M0,-0.45L0.48,0.35L-0.48,0.35Z", "M-1,0H-0.27M0.27,0H1M0,-0.45L0.48,0.35L-0.48,0.35Z", "M-1,0H-0.5M0.5,0H1M0.5,0A0.5,0.5,0,1,1,-0.5,0A0.5,0.5,0,1,1,0.5,0Z", "M-1,0H-0.5M0.5,0H1M0.5,0A0.5,0.5,0,1,1,-0.5,0A0.5,0.5,0,1,1,0.5,0Z"]},
    "legend": {"orient": "none", "legendX": 356, "legendY": -11, "title": null, "direction": "vertical", "padding": 0, "rowPadding": 3, "symbolSize": 780, "symbolStrokeColor": "black", "symbolStrokeWidth": 1.5, "symbolOpacity": 1, "labelFont": "Liberation Serif", "labelFontSize": 22, "labelColor": "black", "labelOffset": 3}},
  "fill": {"field": "series", "type": "nominal", "scale": {"domain": ["0N", "RecN", "Kura 0N", "Kura RecN"], "range": ["black", "white", "white", "black"]},
    "legend": {"orient": "none", "legendX": 356, "legendY": -11, "title": null, "direction": "vertical", "padding": 0, "rowPadding": 3, "symbolSize": 780, "symbolStrokeColor": "black", "symbolStrokeWidth": 1.5, "symbolOpacity": 1, "labelFont": "Liberation Serif", "labelFontSize": 22, "labelColor": "black", "labelOffset": 3}}}},
{"data": {"name": "labels"}, "transform": [{"filter": "datum.panel === 'B1'"}],
 "mark": {"type": "text", "align": "left", "baseline": "alphabetic", "font": "Liberation Serif", "fontSize": 26, "fontWeight": "bold", "color": "black"},
 "encoding": {"x": {"field": "date", "type": "temporal"}, "y": {"field": "value", "type": "quantitative"}, "text": {"field": "label"}}}
]
},
{
"width": 452, "height": 281,
"layer": [
{"data": {"values": [{}]}, "mark": {"type": "rule", "color": "black", "strokeWidth": 2},
 "encoding": {
  "x": {"datum": {"year": 2020, "month": 4, "date": 1, "utc": true}, "type": "temporal",
        "scale": {"type": "utc", "domain": [{"year": 2020, "month": 4, "date": 1, "utc": true}, {"year": 2020, "month": 11, "date": 26, "hours": 10, "utc": true}]},
        "axis": {"values": [{"year":2020,"month":4,"date":1,"utc":true},{"year":2020,"month":5,"date":1,"utc":true},{"year":2020,"month":6,"date":1,"utc":true},{"year":2020,"month":7,"date":1,"utc":true},{"year":2020,"month":8,"date":1,"utc":true},{"year":2020,"month":9,"date":1,"utc":true},{"year":2020,"month":10,"date":1,"utc":true},{"year":2020,"month":11,"date":1,"utc":true}], "labels": false, "title": null}},
  "y": {"datum": 0, "type": "quantitative", "scale": {"domain": [0, 51.09], "nice": false, "zero": false},
        "axis": {"values": [0, 10, 20, 30, 40, 50], "title": "mg NO₃-N L⁻¹"}},
  "y2": {"datum": 50}}},
{"data": {"name": "pts"}, "transform": [{"filter": "datum.panel === 'A2'"}],
 "mark": {"type": "line", "color": "black", "strokeWidth": 1.5},
 "encoding": {"x": {"field": "date", "type": "temporal"}, "y": {"field": "value", "type": "quantitative"}, "detail": {"field": "series"}}},
{"data": {"name": "pts"}, "transform": [{"filter": "datum.panel === 'A2'"}],
 "mark": {"type": "point", "filled": true, "size": 190, "stroke": "black", "strokeWidth": 1.3, "opacity": 1},
 "encoding": {"x": {"field": "date", "type": "temporal"}, "y": {"field": "value", "type": "quantitative"},
  "shape": {"field": "series", "type": "nominal", "scale": {"domain": ["0N", "RecN", "Kura"], "range": ["triangle-up", "triangle-up", "circle"]}, "legend": null},
  "fill": {"field": "series", "type": "nominal", "scale": {"domain": ["0N", "RecN", "Kura"], "range": ["black", "white", "white"]}, "legend": null}}},
{"data": {"name": "labels"}, "transform": [{"filter": "datum.panel === 'A2'"}],
 "mark": {"type": "text", "align": "left", "baseline": "alphabetic", "font": "Liberation Serif", "fontSize": 26, "fontWeight": "bold", "color": "black"},
 "encoding": {"x": {"field": "date", "type": "temporal"}, "y": {"field": "value", "type": "quantitative"}, "text": {"field": "label"}}}
]
},
{
"width": 479, "height": 269,
"layer": [
{"data": {"values": [{}]}, "mark": {"type": "rule", "color": "black", "strokeWidth": 2},
 "encoding": {
  "x": {"datum": {"year": 2020, "month": 4, "date": 1, "utc": true}, "type": "temporal",
        "scale": {"type": "utc", "domain": [{"year": 2020, "month": 4, "date": 1, "utc": true}, {"year": 2020, "month": 11, "date": 27, "hours": 12, "utc": true}]},
        "axis": {"values": [{"year":2020,"month":4,"date":1,"utc":true},{"year":2020,"month":5,"date":1,"utc":true},{"year":2020,"month":6,"date":1,"utc":true},{"year":2020,"month":7,"date":1,"utc":true},{"year":2020,"month":8,"date":1,"utc":true},{"year":2020,"month":9,"date":1,"utc":true},{"year":2020,"month":10,"date":1,"utc":true},{"year":2020,"month":11,"date":1,"utc":true}], "labels": false, "title": null}},
  "y": {"datum": 0, "type": "quantitative", "scale": {"domain": [0, 50], "nice": false, "zero": false},
        "axis": {"values": [0, 10, 20, 30, 40, 50], "labels": false, "title": null}},
  "y2": {"datum": 50}}},
{"data": {"name": "pts"}, "transform": [{"filter": "datum.panel === 'B2'"}],
 "mark": {"type": "line", "color": "black", "strokeWidth": 1.5},
 "encoding": {"x": {"field": "date", "type": "temporal"}, "y": {"field": "value", "type": "quantitative"}, "detail": {"field": "series"}}},
{"data": {"name": "pts"}, "transform": [{"filter": "datum.panel === 'B2'"}],
 "mark": {"type": "point", "filled": true, "size": 190, "stroke": "black", "strokeWidth": 1.3, "opacity": 1},
 "encoding": {"x": {"field": "date", "type": "temporal"}, "y": {"field": "value", "type": "quantitative"},
  "shape": {"field": "series", "type": "nominal", "scale": {"domain": ["0N", "RecN", "Kura 0N", "Kura RecN"], "range": ["triangle-up", "triangle-up", "circle", "circle"]}, "legend": null},
  "fill": {"field": "series", "type": "nominal", "scale": {"domain": ["0N", "RecN", "Kura 0N", "Kura RecN"], "range": ["black", "white", "white", "black"]}, "legend": null}}},
{"data": {"name": "labels"}, "transform": [{"filter": "datum.panel === 'B2'"}],
 "mark": {"type": "text", "align": "left", "baseline": "alphabetic", "font": "Liberation Serif", "fontSize": 26, "fontWeight": "bold", "color": "black"},
 "encoding": {"x": {"field": "date", "type": "temporal"}, "y": {"field": "value", "type": "quantitative"}, "text": {"field": "label"}}}
]
},
{
"width": 452, "height": 301,
"layer": [
{"data": {"values": [{}]}, "mark": {"type": "rule", "color": "black", "strokeWidth": 2},
 "encoding": {
  "x": {"datum": {"year": 2020, "month": 4, "date": 1, "utc": true}, "type": "temporal",
        "scale": {"type": "utc", "domain": [{"year": 2020, "month": 4, "date": 1, "utc": true}, {"year": 2020, "month": 11, "date": 26, "hours": 10, "utc": true}]},
        "axis": {"values": [{"year":2020,"month":4,"date":1,"utc":true},{"year":2020,"month":5,"date":1,"utc":true},{"year":2020,"month":6,"date":1,"utc":true},{"year":2020,"month":7,"date":1,"utc":true},{"year":2020,"month":8,"date":1,"utc":true},{"year":2020,"month":9,"date":1,"utc":true},{"year":2020,"month":10,"date":1,"utc":true},{"year":2020,"month":11,"date":1,"utc":true}], "labelExpr": "utcFormat(datum.value, '%b')", "title": "Stage 1"}},
  "y": {"datum": 0, "type": "quantitative", "scale": {"domain": [0, 51.54], "nice": false, "zero": false},
        "axis": {"values": [0, 10, 20, 30, 40, 50], "title": "mg NO₃-N L⁻¹"}},
  "y2": {"datum": 50}}},
{"data": {"name": "pts"}, "transform": [{"filter": "datum.panel === 'A3'"}],
 "mark": {"type": "line", "color": "black", "strokeWidth": 1.5},
 "encoding": {"x": {"field": "date", "type": "temporal"}, "y": {"field": "value", "type": "quantitative"}, "detail": {"field": "series"}}},
{"data": {"name": "pts"}, "transform": [{"filter": "datum.panel === 'A3'"}],
 "mark": {"type": "point", "filled": true, "size": 190, "stroke": "black", "strokeWidth": 1.3, "opacity": 1},
 "encoding": {"x": {"field": "date", "type": "temporal"}, "y": {"field": "value", "type": "quantitative"},
  "shape": {"field": "series", "type": "nominal", "scale": {"domain": ["0N", "RecN", "Kura"], "range": ["triangle-up", "triangle-up", "circle"]}, "legend": null},
  "fill": {"field": "series", "type": "nominal", "scale": {"domain": ["0N", "RecN", "Kura"], "range": ["black", "white", "white"]}, "legend": null}}},
{"data": {"name": "labels"}, "transform": [{"filter": "datum.panel === 'A3'"}],
 "mark": {"type": "text", "align": "left", "baseline": "alphabetic", "font": "Liberation Serif", "fontSize": 26, "fontWeight": "bold", "color": "black"},
 "encoding": {"x": {"field": "date", "type": "temporal"}, "y": {"field": "value", "type": "quantitative"}, "text": {"field": "label"}}}
]
},
{
"width": 479, "height": 302,
"layer": [
{"data": {"values": [{}]}, "mark": {"type": "rule", "color": "black", "strokeWidth": 2},
 "encoding": {
  "x": {"datum": {"year": 2020, "month": 4, "date": 1, "utc": true}, "type": "temporal",
        "scale": {"type": "utc", "domain": [{"year": 2020, "month": 4, "date": 1, "utc": true}, {"year": 2020, "month": 11, "date": 27, "hours": 12, "utc": true}]},
        "axis": {"values": [{"year":2020,"month":4,"date":1,"utc":true},{"year":2020,"month":5,"date":1,"utc":true},{"year":2020,"month":6,"date":1,"utc":true},{"year":2020,"month":7,"date":1,"utc":true},{"year":2020,"month":8,"date":1,"utc":true},{"year":2020,"month":9,"date":1,"utc":true},{"year":2020,"month":10,"date":1,"utc":true},{"year":2020,"month":11,"date":1,"utc":true}], "labelExpr": "utcFormat(datum.value, '%b')", "title": "Stage 2"}},
  "y": {"datum": 0, "type": "quantitative", "scale": {"domain": [0, 53.68], "nice": false, "zero": false},
        "axis": {"values": [0, 10, 20, 30, 40, 50], "labels": false, "title": null}},
  "y2": {"datum": 50}}},
{"data": {"name": "pts"}, "transform": [{"filter": "datum.panel === 'B3'"}],
 "mark": {"type": "line", "color": "black", "strokeWidth": 1.5},
 "encoding": {"x": {"field": "date", "type": "temporal"}, "y": {"field": "value", "type": "quantitative"}, "detail": {"field": "series"}}},
{"data": {"name": "pts"}, "transform": [{"filter": "datum.panel === 'B3'"}],
 "mark": {"type": "point", "filled": true, "size": 190, "stroke": "black", "strokeWidth": 1.3, "opacity": 1},
 "encoding": {"x": {"field": "date", "type": "temporal"}, "y": {"field": "value", "type": "quantitative"},
  "shape": {"field": "series", "type": "nominal", "scale": {"domain": ["0N", "RecN", "Kura 0N", "Kura RecN"], "range": ["triangle-up", "triangle-up", "circle", "circle"]}, "legend": null},
  "fill": {"field": "series", "type": "nominal", "scale": {"domain": ["0N", "RecN", "Kura 0N", "Kura RecN"], "range": ["black", "white", "white", "black"]}, "legend": null}}},
{"data": {"name": "labels"}, "transform": [{"filter": "datum.panel === 'B3'"}],
 "mark": {"type": "text", "align": "left", "baseline": "alphabetic", "font": "Liberation Serif", "fontSize": 26, "fontWeight": "bold", "color": "black"},
 "encoding": {"x": {"field": "date", "type": "temporal"}, "y": {"field": "value", "type": "quantitative"}, "text": {"field": "label"}}}
]
}
],
"config": {
 "view": {"stroke": null},
 "font": "Liberation Serif",
 "axis": {"domainColor": "black", "domainWidth": 2, "tickColor": "black", "tickWidth": 2, "tickSize": 6, "labelColor": "black", "labelFont": "Liberation Serif", "titleColor": "black", "titleFont": "Liberation Serif", "grid": false, "labelOverlap": false, "labelFlush": false, "labelBound": false},
 "axisY": {"domain": false, "labelFontSize": 25, "labelPadding": 7, "titleFontSize": 25, "titleFontWeight": "bold", "titlePadding": 5},
 "axisX": {"labelFontSize": 28, "labelFontWeight": "bold", "labelPadding": 11, "titleFontSize": 28, "titleFontWeight": "bold", "titlePadding": 3}
}
}
